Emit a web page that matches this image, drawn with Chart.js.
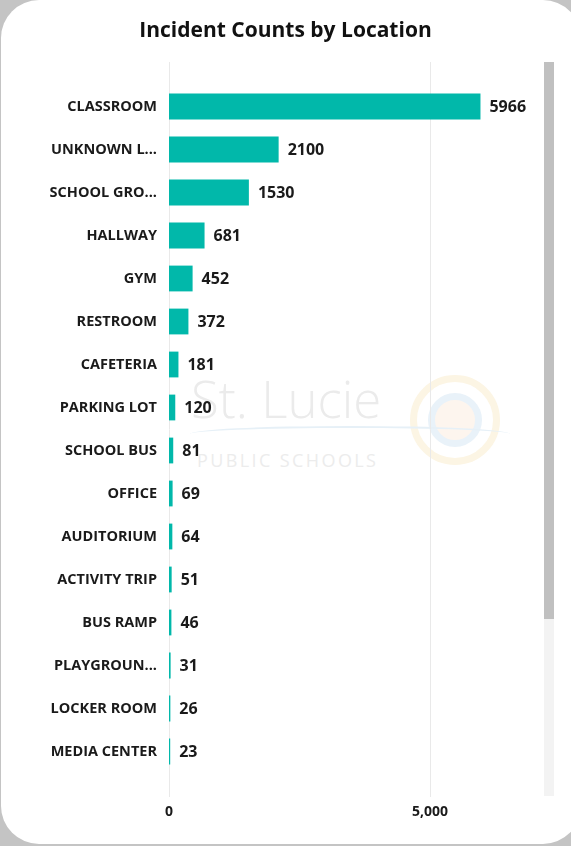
<!DOCTYPE html>
<html>
<head>
<meta charset="utf-8">
<title>Incident Counts by Location</title>
<script src="https://cdn.jsdelivr.net/npm/chart.js@4.4.1/dist/chart.umd.min.js"></script>
<style>
    html, body { margin: 0; padding: 0; }
    body { width: 571px; height: 846px; background: #c4c4c4; overflow: hidden; position: relative; font-family: 'Open Sans', sans-serif; }
    .card { position: absolute; left: 1px; top: 0; width: 580px; height: 844px; background: #fff; border-radius: 38px; }
    .watermark { position: absolute; left: 0; top: 0; width: 571px; height: 846px; pointer-events: none; }
    .wm-title { position: absolute; left: 191px; top: 373px; font-size: 51px; font-weight: 300; color: #ebebeb; line-height: 1; }
    .wm-sub { position: absolute; left: 197px; top: 451px; font-size: 18px; letter-spacing: 2.4px; color: #ececec; line-height: 1; }
    .wm-wave { position: absolute; left: 190px; top: 426px; width: 320px; height: 14px; border-top: 2px solid #e6f0f7; border-radius: 50% 50% 0 0; }
    .wm-ring1 { position: absolute; left: 410px; top: 375px; width: 90px; height: 90px; border-radius: 50%; border: 7px solid #fcf5e4; box-sizing: border-box; }
    .wm-ring2 { position: absolute; left: 428px; top: 393px; width: 54px; height: 54px; border-radius: 50%; border: 7px solid #e9f2f9; box-sizing: border-box; background: #fdf5ee; }
    .scroll-track { position: absolute; left: 544px; top: 62px; width: 10px; height: 734px; background: #f3f3f3; }
    .scroll-thumb { position: absolute; left: 544px; top: 62px; width: 10px; height: 557px; background: #c0c0c0; }
    .chart-box { position: absolute; left: 0; top: 0; width: 571px; height: 846px; }
</style>
</head>
<body>
<div class="card"></div>
<div class="watermark">
    <div class="wm-ring1"></div>
    <div class="wm-ring2"></div>
    <div class="wm-wave"></div>
    <div class="wm-title">St. Lucie</div>
    <div class="wm-sub">PUBLIC SCHOOLS</div>
</div>
<div class="scroll-track"></div>
<div class="scroll-thumb"></div>
<div class="chart-box"><canvas id="locationChart"></canvas></div>

<script>
// chart data
const locations = [
    'CLASSROOM', 'UNKNOWN L...', 'SCHOOL GRO...', 'HALLWAY', 'GYM', 'RESTROOM',
    'CAFETERIA', 'PARKING LOT', 'SCHOOL BUS', 'OFFICE', 'AUDITORIUM',
    'ACTIVITY TRIP', 'BUS RAMP', 'PLAYGROUN...', 'LOCKER ROOM', 'MEDIA CENTER'
];
const incidentCounts = [5966, 2100, 1530, 681, 452, 372, 181, 120, 81, 69, 64, 51, 46, 31, 26, 23];
const xTickValues = [0, 5000];

Chart.defaults.font.family = "'Open Sans', sans-serif";
Chart.defaults.color = '#1a1a1a';

// vertical grid lines run a bit past the bars, like the original
const gridLines = {
    id: 'gridLines',
    beforeDatasetsDraw(chart) {
        const ctx = chart.ctx;
        const x = chart.scales.x;
        ctx.save();
        ctx.strokeStyle = '#e9e9e9';
        ctx.lineWidth = 1;
        x.ticks.forEach(t => {
            const px = Math.round(x.getPixelForValue(t.value)) + 0.5;
            ctx.beginPath();
            ctx.moveTo(px, 62);
            ctx.lineTo(px, 797);
            ctx.stroke();
        });
        ctx.restore();
    }
};

// value labels at the end of each bar
const barLabels = {
    id: 'barLabels',
    afterDatasetsDraw(chart) {
        const ctx = chart.ctx;
        const meta = chart.getDatasetMeta(0);
        ctx.save();
        ctx.font = "bold 16px 'Open Sans', sans-serif";
        ctx.fillStyle = '#1a1a1a';
        ctx.textAlign = 'left';
        ctx.textBaseline = 'middle';
        meta.data.forEach((bar, i) => {
            ctx.fillText(String(incidentCounts[i]), bar.x + 9, bar.y + 1);
        });
        ctx.restore();
    }
};

new Chart(document.getElementById('locationChart'), {
    type: 'bar',
    data: {
        labels: locations,
        datasets: [{
            label: 'Incidents',
            data: incidentCounts,
            backgroundColor: '#01b8aa',
            borderWidth: 0,
            barPercentage: 0.6,
            categoryPercentage: 1
        }]
    },
    options: {
        indexAxis: 'y',
        responsive: true,
        maintainAspectRatio: false,
        animation: false,
        layout: {
            padding: { left: 0, right: 0, top: 0, bottom: 0 }
        },
        plugins: {
            legend: { display: false },
            tooltip: { enabled: false },
            title: {
                display: true,
                text: 'Incident Counts by Location',
                color: '#111',
                font: { size: 21, weight: 'bold' },
                padding: { top: 18, bottom: 41.8 }
            }
        },
        scales: {
            x: {
                type: 'linear',
                position: 'bottom',
                min: 0,
                max: 7700,
                afterBuildTicks: scale => {
                    scale.ticks = xTickValues.map(v => ({ value: v }));
                },
                afterFit: scale => { scale.height = 73; },
                grid: { display: false, drawTicks: false },
                border: { display: false },
                ticks: {
                    padding: 30.5,
                    color: '#1a1a1a',
                    font: { size: 14, weight: 'bold' },
                    callback: v => v.toLocaleString('en-US')
                }
            },
            y: {
                afterFit: scale => { scale.width = 169; },
                grid: { display: false, drawTicks: false },
                border: { display: false },
                ticks: {
                    padding: 12,
                    color: '#1a1a1a',
                    font: { size: 14.5, weight: 'bold' }
                }
            }
        }
    },
    plugins: [gridLines, barLabels]
});
</script>
</body>
</html>
